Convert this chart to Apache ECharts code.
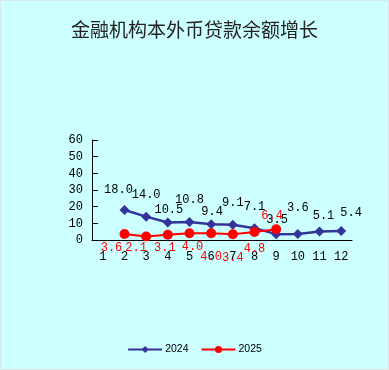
<!DOCTYPE html>
<html>
<head>
<meta charset="utf-8">
<script src="https://cdn.jsdelivr.net/npm/echarts@6/dist/echarts.min.js"></script>
<style>
html,body{margin:0;padding:0;background:#ccffff;}
#c{width:389px;height:370px;box-sizing:border-box;border:1px solid #d8e8e8;}
</style>
</head>
<body>
<div id="c"></div>
<script>
var titleText = '金融机构本外币贷款余额增长';
var categories = ['1','2','3','4','5','6','7','8','9','10','11','12'];
var seriesNames = ['2024','2025'];
var values2024 = [null, 18.0, 14.0, 10.5, 10.8, 9.4, 9.1, 7.1, 3.5, 3.6, 5.1, 5.4];
var values2025 = [null, 3.6, 2.1, 3.1, 4.0, 4.0, 3.4, 4.8, 6.4, null, null, null];
var yTicks = [0, 10, 20, 30, 40, 50, 60];

// label placement (style only): offset of each label from its point, in px
var labelShift2024 = [null, [-6,-20], [0,-22], [1,-13], [0,-22], [1,-13], [0,-22], [0,-21], [1,-14], [0,-26], [4,-16], [10,-18]];
var labelShift2025 = [null, [-13,14], [-10,11], [-3,13], [3,13], [0,23], [0,23], [0,17], [-4,-14], null, null, null];

var mono = 'Liberation Mono, DejaVu Sans Mono, monospace';
var chart = echarts.init(document.getElementById('c'), null, {renderer: 'canvas'});

function withLabels(values, shifts) {
  return values.map(function(v, i){
    if (v === null) return null;
    var s = shifts[i] || [0, 0];
    return {value: v, label: {position: 'inside', offset: s}};
  });
}

chart.setOption({
  backgroundColor: '#ccffff',
  animation: false,
  title: {
    text: titleText,
    left: 'center',
    top: 14,
    textStyle: {fontFamily: 'Noto Sans CJK SC', fontSize: 19, fontWeight: 'normal', color: '#222'}
  },
  legend: {
    top: 338,
    left: 'center',
    itemWidth: 34,
    itemHeight: 9,
    itemGap: 12,
    textStyle: {fontFamily: 'Liberation Sans, sans-serif', fontSize: 10.5, color: '#000', padding: [0,0,0,-2]},
    data: seriesNames
  },
  grid: {left: 91, right: 36, top: 139, bottom: 129},
  xAxis: {
    type: 'category',
    data: categories,
    boundaryGap: true,
    axisLine: {lineStyle: {color: '#000', width: 1}},
    axisTick: {inside: true, length: 7, lineStyle: {color: '#000'}},
    axisLabel: {fontFamily: mono, fontSize: 12, color: '#000', margin: 11}
  },
  yAxis: {
    type: 'value',
    min: yTicks[0],
    max: yTicks[yTicks.length - 1],
    interval: yTicks[1] - yTicks[0],
    axisLine: {show: true, lineStyle: {color: '#000', width: 1}},
    axisTick: {show: true, inside: true, length: 6, lineStyle: {color: '#000'}},
    axisLabel: {fontFamily: mono, fontSize: 12, color: '#000', margin: 9},
    splitLine: {show: false}
  },
  series: [
    {
      name: seriesNames[0],
      type: 'line',
      data: withLabels(values2024, labelShift2024),
      symbol: 'diamond',
      symbolSize: 10,
      color: '#333399',
      lineStyle: {color: '#333399', width: 2.5},
      itemStyle: {color: '#333399'},
      label: {
        show: true,
        fontFamily: mono, fontSize: 12, color: '#000',
        formatter: function(p){ return p.value == null ? '' : Number(p.value).toFixed(1); }
      }
    },
    {
      name: seriesNames[1],
      type: 'line',
      data: withLabels(values2025, labelShift2025),
      symbol: 'circle',
      symbolSize: 10,
      color: '#ff0000',
      lineStyle: {color: '#ff0000', width: 2},
      itemStyle: {color: '#ff0000'},
      label: {
        show: true,
        fontFamily: mono, fontSize: 12, color: '#ff0000',
        formatter: function(p){ return p.value == null ? '' : Number(p.value).toFixed(1); }
      }
    }
  ]
});
</script>
</body>
</html>
